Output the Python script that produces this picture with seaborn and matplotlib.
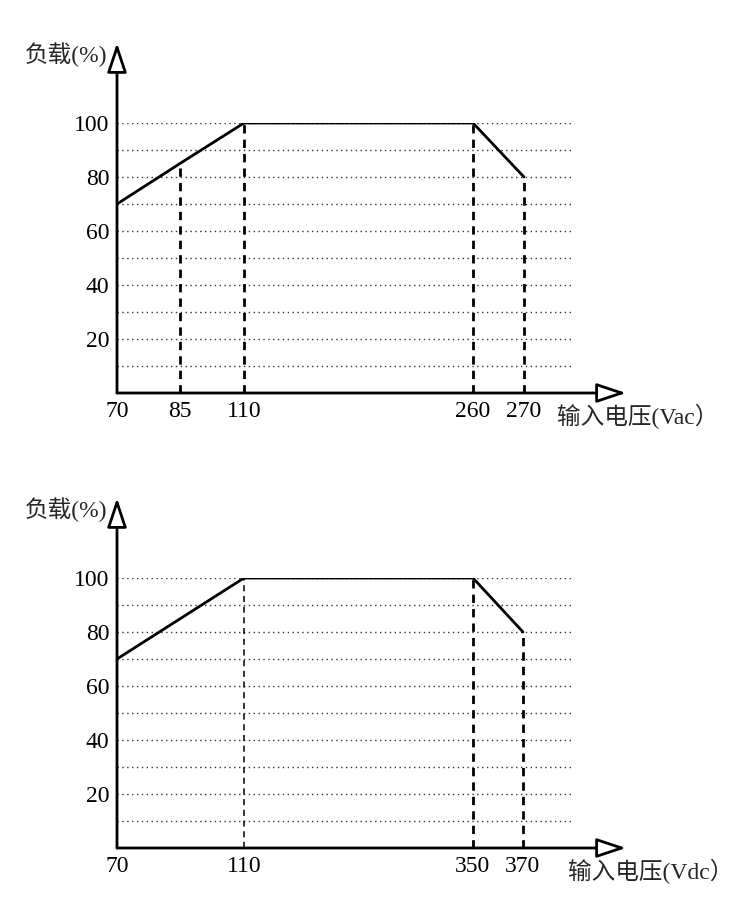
import numpy as np
import pandas as pd
import matplotlib
matplotlib.use("Agg")
import matplotlib.pyplot as plt
import seaborn as sns

# ---------------- data ----------------
ac_voltage = [70, 85, 110, 260, 270]
ac_load = [70, 85, 100, 100, 80]
ac_ticks = [70, 85, 110, 260, 270]
ac_label = "输入电压(Vac）"

dc_voltage = [70, 110, 350, 370]
dc_load = [70, 100, 100, 80]
dc_ticks = [70, 110, 350, 370]
dc_label = "输入电压(Vdc）"

y_ticks = [20, 40, 60, 80, 100]
y_grid = [10, 20, 30, 40, 50, 60, 70, 80, 90, 100]
y_label = "负载(%)"

# ---------------- layout (pixel-based, not data) ----------------
W, H = 739, 907
ac_pos = [0, 63, 127, 356, 407]
dc_pos = [0, 127, 356, 406]
axis_len = 456  # grid extent in px

sns.set_style("white")
plt.rcParams["font.family"] = ["Liberation Serif", "Noto Sans CJK SC", "DejaVu Sans"]

fig = plt.figure(figsize=(W / 100, H / 100), dpi=100)


def make_scale(vals, pos):
    vals = np.asarray(vals, float)
    pos = np.asarray(pos, float)

    def interp(x, a, b):
        x = np.asarray(x, float)
        y = np.interp(x, a, b)
        lo = (b[1] - b[0]) / (a[1] - a[0])
        hi = (b[-1] - b[-2]) / (a[-1] - a[-2])
        y = np.where(x < a[0], b[0] + (x - a[0]) * lo, y)
        y = np.where(x > a[-1], b[-1] + (x - a[-1]) * hi, y)
        return y

    return (lambda x: interp(x, vals, pos)), (lambda p: interp(p, pos, vals))


def draw_panel(origin_y_px, xs, ys, ticks, pos, xlabel, xlabel_left_px,
               thin_first_dash=False):
    left = 117 / W
    bottom = (H - origin_y_px) / H
    width = axis_len / W
    height = 270 / H
    ax = fig.add_axes([left, bottom, width, height])
    fwd, inv = make_scale(ticks, pos)
    ax.set_xscale("function", functions=(fwd, inv))
    ax.set_xlim(ticks[0], float(inv(axis_len)))
    ax.set_ylim(0, 100)

    # dotted horizontal grid
    for g in y_grid:
        ax.axhline(g, color="#333333", lw=1.0, ls=(0, (1, 2.5)), zorder=1)

    # dashed verticals
    for i, (x, y) in enumerate(zip(xs, ys)):
        if x == ticks[0]:
            continue
        if thin_first_dash and i == 1:
            ax.plot([x, x], [0, y], color="black", lw=1.1, ls=(0, (4, 3)), zorder=2)
        else:
            ax.plot([x, x], [0, y], color="black", lw=2.0, ls=(0, (3, 2.2)), zorder=2)

    df = pd.DataFrame({"v": xs, "load": ys})
    sns.lineplot(data=df, x="v", y="load", ax=ax, color="black", lw=2.0,
                 sort=False, zorder=3)

    for s in ax.spines.values():
        s.set_visible(False)
    ax.set_xlabel("")
    ax.set_ylabel("")
    ax.grid(False)
    ax.set_xticks(ticks)
    ax.set_xticklabels([str(t) for t in ticks])
    ax.set_yticks(y_ticks)
    ax.set_yticklabels([str(t) for t in y_ticks])
    ax.xaxis.set_minor_locator(matplotlib.ticker.NullLocator())
    ax.tick_params(axis="both", length=0, labelsize=17, colors="black")
    ax.tick_params(axis="x", pad=6)
    ax.tick_params(axis="y", pad=5.5)

    # axes with open arrows
    arrow = dict(arrowstyle="-|>,head_length=1.8,head_width=0.6", fc="white",
                 ec="black", lw=2.0, shrinkA=0, shrinkB=0, mutation_scale=10)
    ax.annotate("", xy=(0, 350 / 270), xytext=(0, 0), xycoords="axes fraction",
                arrowprops=arrow, annotation_clip=False)
    ax.annotate("", xy=((626 - 117) / axis_len, 0), xytext=(0, 0),
                xycoords="axes fraction", arrowprops=arrow, annotation_clip=False)

    # labels
    ax.text(-10 / axis_len, 338 / 270, y_label, transform=ax.transAxes, ha="right",
            va="center", fontsize=17)
    ax.text((xlabel_left_px - 117) / axis_len, -23 / 270, xlabel,
            transform=ax.transAxes, ha="left", va="center", fontsize=17)
    return ax


draw_panel(393, ac_voltage, ac_load, ac_ticks, ac_pos, ac_label, 557)
draw_panel(848, dc_voltage, dc_load, dc_ticks, dc_pos, dc_label, 568,
           thin_first_dash=True)

fig.savefig("out.png", dpi=100, facecolor="white")
